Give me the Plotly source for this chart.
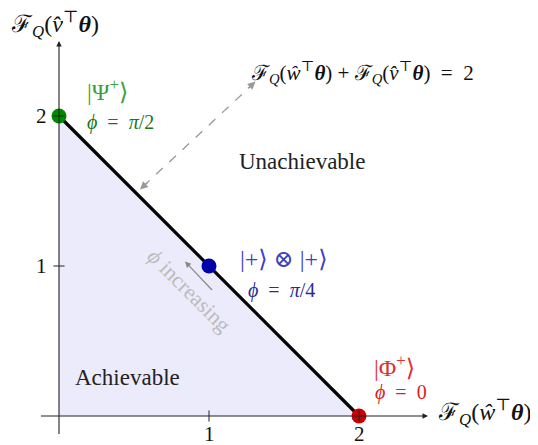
import plotly.graph_objects as go

# ── data ──────────────────────────────────────────────────────────────────
frontier_x = [0, 1, 2]
frontier_y = [2, 1, 0]
state_names = ["|Ψ<sup>+</sup>⟩", "|+⟩ ⊗ |+⟩", "|Φ<sup>+</sup>⟩"]
state_phi = ["<i>ϕ</i> = <i>π</i>/2", "<i>ϕ</i> = <i>π</i>/4", "<i>ϕ</i> = 0"]
dot_colors = ["#008a00", "#0000a8", "#cc0000"]
name_colors = ["#3aa03a", "#4040c0", "#dd3030"]
phi_colors = ["#187818", "#2a2a9a", "#dd2020"]
ticks = [1, 2]

FONT = "Liberation Serif, DejaVu Serif, serif"
FQ = "ℱ<sub><i>Q</i></sub>"
THETA = "<b><i>θ</i></b>"
xlabel = f"{FQ}(<i>ŵ</i><sup>⊤</sup>{THETA})"
ylabel = f"{FQ}(<i>v̂</i><sup>⊤</sup>{THETA})"
eq_label = f"{FQ}(<i>ŵ</i><sup>⊤</sup>{THETA}) + {FQ}(<i>v̂</i><sup>⊤</sup>{THETA}) = 2"

fig = go.Figure()

# achievable region
fig.add_trace(go.Scatter(
    x=[0] + frontier_x + [0], y=[0] + frontier_y + [0],
    mode="lines", fill="toself", fillcolor="#ebebfb",
    line=dict(width=0), hoverinfo="skip", showlegend=False,
))

# axes
fig.add_annotation(x=2.46, y=0, ax=-0.13, ay=0, xref="x", yref="y", axref="x", ayref="y",
                   showarrow=True, arrowhead=2, arrowsize=1, arrowwidth=1.1,
                   arrowcolor="#222", text="")
fig.add_annotation(x=0, y=2.5, ax=0, ay=-0.13, xref="x", yref="y", axref="x", ayref="y",
                   showarrow=True, arrowhead=2, arrowsize=1, arrowwidth=1.1,
                   arrowcolor="#222", text="")

# ticks
for t in ticks:
    fig.add_shape(type="line", x0=t, x1=t, y0=-0.037, y1=0.037,
                  line=dict(color="#222", width=1))
    fig.add_shape(type="line", y0=t, y1=t, x0=-0.037, x1=0.037,
                  line=dict(color="#222", width=1))
    fig.add_annotation(x=t, y=-0.118, text=str(t), showarrow=False,
                       font=dict(size=21, family=FONT, color="#111"))
    fig.add_annotation(x=-0.12, y=t, text=str(t), showarrow=False,
                       font=dict(size=21, family=FONT, color="#111"))

# frontier line
fig.add_trace(go.Scatter(
    x=frontier_x, y=frontier_y, mode="lines",
    line=dict(color="black", width=3.2), hoverinfo="skip", showlegend=False,
))

# states
fig.add_trace(go.Scatter(
    x=frontier_x, y=frontier_y, mode="markers",
    marker=dict(size=15, color=dot_colors), hoverinfo="skip", showlegend=False,
))

# state labels
label_pos = [(0.17, 2.175, 0.175, 1.96), (1.19, 1.05, 1.245, 0.84), (2.085, 0.335, 2.09, 0.155)]
for (xn, yn, xp, yp), name, phi, cn, cp in zip(label_pos, state_names, state_phi,
                                               name_colors, phi_colors):
    fig.add_annotation(x=xn, y=yn, text=name, showarrow=False, xanchor="left",
                       font=dict(size=24, family=FONT, color=cn))
    fig.add_annotation(x=xp, y=yp, text=phi.replace(" ", "\u2002"), showarrow=False,
                       xanchor="left", font=dict(size=20, family=FONT, color=cp))

# axis labels
fig.add_annotation(x=2.51, y=0.027, text=xlabel, showarrow=False, xanchor="left",
                   font=dict(size=24, family=FONT, color="#111"))
fig.add_annotation(x=-0.335, y=2.615, text=ylabel, showarrow=False, xanchor="left",
                   font=dict(size=24, family=FONT, color="#111"))

# region labels
fig.add_annotation(x=1.62, y=1.7, text="Unachievable", showarrow=False,
                   font=dict(size=23, family=FONT, color="#222"))
fig.add_annotation(x=0.09, y=0.255, text="Achievable", showarrow=False, xanchor="left",
                   font=dict(size=23, family=FONT, color="#222"))

# dashed double arrow to the frontier equation
fig.add_shape(type="line", x0=0.56, y0=1.53, x1=1.29, y1=2.21,
              line=dict(color="#999", width=1.3, dash="dash"))
fig.add_annotation(x=0.54, y=1.51, ax=0.6, ay=1.565, xref="x", yref="y", axref="x", ayref="y",
                   showarrow=True, arrowhead=2, arrowsize=1.2, arrowwidth=1.3,
                   arrowcolor="#999", text="")
fig.add_annotation(x=1.31, y=2.23, ax=1.25, ay=2.175, xref="x", yref="y", axref="x", ayref="y",
                   showarrow=True, arrowhead=2, arrowsize=1.2, arrowwidth=1.3,
                   arrowcolor="#999", text="")
fig.add_annotation(x=1.265, y=2.29, text=eq_label.replace(" = ", "\u2002=\u2002"),
                   showarrow=False, xanchor="left",
                   font=dict(size=21, family=FONT, color="#111"))

# phi increasing
fig.add_annotation(x=0.84, y=1.03, ax=1.03, ay=0.83, xref="x", yref="y", axref="x", ayref="y",
                   showarrow=True, arrowhead=2, arrowsize=1, arrowwidth=1.2,
                   arrowcolor="#888", text="")
fig.add_annotation(x=0.87, y=0.84, text="<i>ϕ</i> increasing", showarrow=False, textangle=45,
                   font=dict(size=22, family=FONT, color="#bbb"))

# page body has an 8px margin, so the figure is shifted by (8, 8)
fig.update_layout(
    width=530, height=437,
    margin=dict(l=0, r=0, t=0, b=0),
    plot_bgcolor="white", paper_bgcolor="white",
    xaxis=dict(range=[-0.34, 3.1933], visible=False, fixedrange=True),
    yaxis=dict(range=[-0.1933, 2.72], visible=False, fixedrange=True),
    showlegend=False,
)

fig.write_html("out.html")
